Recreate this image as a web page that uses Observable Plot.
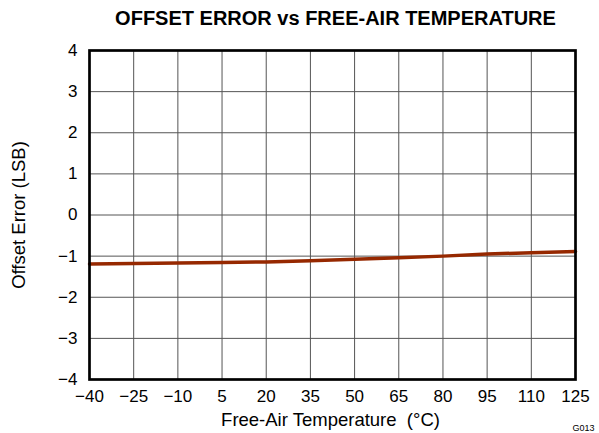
<!DOCTYPE html>
<html>
<head>
<meta charset="utf-8">
<script src="https://cdn.jsdelivr.net/npm/d3@7"></script>
<script src="https://cdn.jsdelivr.net/npm/@observablehq/plot@0.6"></script>
<style>
  html, body { margin: 0; padding: 0; background: #fff; }
  svg { font-family: "Liberation Sans", Arial, sans-serif; }
</style>
</head>
<body>
<div id="chart"></div>
<script>
const titleText = "OFFSET ERROR vs FREE-AIR TEMPERATURE";
const xLabel = "Free-Air Temperature  (°C)";
const yLabel = "Offset Error (LSB)";
const codeLabel = "G013";
const temps = [-40, -25, -10, 5, 20, 35, 50, 65, 80, 95, 110, 125];
const offsetErr = [-1.19, -1.18, -1.165, -1.155, -1.14, -1.11, -1.075, -1.04, -1.0, -0.95, -0.915, -0.885];
const xTicks = [-40, -25, -10, 5, 20, 35, 50, 65, 80, 95, 110, 125];
const yTicks = [-4, -3, -2, -1, 0, 1, 2, 3, 4];

const data = temps.map((t, i) => ({t, v: offsetErr[i]}));
const fmt = d => String(d).replace("-", "\u2212");

const chart = Plot.plot({
  width: 599,
  height: 433,
  marginTop: 50,
  marginBottom: 54,
  marginLeft: 89,
  marginRight: 24,
  style: {fontFamily: "Liberation Sans, Arial, sans-serif", background: "#fff"},
  x: {domain: [-40, 125]},
  y: {domain: [-4, 4]},
  marks: [
    Plot.gridX(xTicks, {stroke: "#555", strokeOpacity: 1, strokeWidth: 1}),
    Plot.gridY(yTicks, {stroke: "#555", strokeOpacity: 1, strokeWidth: 1}),
    Plot.axisX(xTicks, {tickSize: 0, tickPadding: 10, tickFormat: fmt, fontSize: 17, fill: "#000", label: null}),
    Plot.axisY(yTicks, {tickSize: 0, tickPadding: 12, tickFormat: fmt, fontSize: 17, fill: "#000", label: null}),
    Plot.line(data, {x: "t", y: "v", stroke: "#962800", strokeWidth: 3.5}),
    Plot.frame({stroke: "#000", strokeWidth: 2.7}),
    Plot.text([titleText], {frameAnchor: "top", lineAnchor: "middle", dx: 3, dy: -32, fontSize: 20, fontWeight: "bold", fill: "#000"}),
    Plot.text([xLabel], {frameAnchor: "bottom", lineAnchor: "middle", dx: -2, dy: 40.5, fontSize: 18.5, fill: "#000"}),
    Plot.text([yLabel], {frameAnchor: "left", textAnchor: "middle", lineAnchor: "middle", dx: -70.5, rotate: -90, fontSize: 18.5, fill: "#000"}),
    Plot.text([codeLabel], {frameAnchor: "bottom-right", lineAnchor: "middle", dx: 19, dy: 49, textAnchor: "end", fontSize: 9, fill: "#000"})
  ]
});
document.getElementById("chart").appendChild(chart);
</script>
</body>
</html>
